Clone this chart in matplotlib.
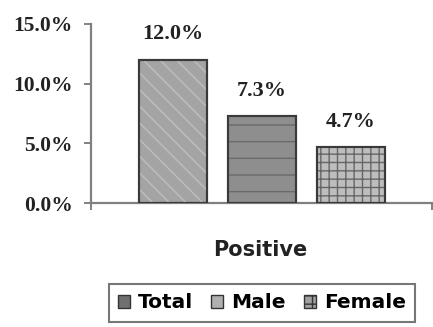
import matplotlib
matplotlib.use('Agg')
import matplotlib.pyplot as plt
from matplotlib.patches import Patch

# percentage testing positive, by group
groups = ['Total', 'Male', 'Female']
values = [12.0, 7.3, 4.7]
value_labels = ['12.0%', '7.3%', '4.7%']
y_ticks = [0, 5, 10, 15]
y_tick_labels = ['0.0%', '5.0%', '10.0%', '15.0%']

# fill colour, hatch, hatch colour per bar
faces = ['#a4a4a4', '#8e8e8e', '#bdbdbd']
hatches = ['\\\\', '-', '++']
hatch_colors = ['#bebebe', '#6a6a6a', '#666666']

fig = plt.figure(figsize=(4.33, 3.27), dpi=100)
ax = fig.add_axes([0.210, 0.379, 0.788, 0.548])

x = list(range(len(groups)))
width = 0.77
ax.bar(x, values, width=width, color=faces, edgecolor='#3a3a3a',
       linewidth=1.5, zorder=2)
# draw hatches on top so they get their own colour
for xi, v, h, hc in zip(x, values, hatches, hatch_colors):
    ax.bar(xi, v, width=width, fill=False, hatch=h, edgecolor=hc,
           linewidth=0, zorder=3)
ax.bar(x, values, width=width, fill=False, edgecolor='#3a3a3a',
       linewidth=1.5, zorder=4)

for xi, v, lab in zip(x, values, value_labels):
    ax.annotate(lab, (xi, v), xytext=(0, 11), textcoords='offset points',
                ha='center', va='bottom', fontsize=16, fontweight='bold',
                family='Liberation Serif', color='#222222')

ax.set_ylim(0, 15)
ax.set_xlim(-0.92, 2.91)
ax.set_yticks(y_ticks)
ax.set_yticklabels(y_tick_labels, fontsize=15.5, fontweight='bold',
                   family='Liberation Serif', color='#222222')
ax.set_xticks([-0.92, 2.91])
ax.set_xticklabels(['', ''])
ax.tick_params(axis='both', direction='out', length=5, width=1.3,
               color='#777777')
ax.tick_params(axis='y', pad=8)

for s in ['top', 'right']:
    ax.spines[s].set_visible(False)
for s in ['left', 'bottom']:
    ax.spines[s].set_color('#808080')
    ax.spines[s].set_linewidth(1.6)

fig.text(260 / 433, 1 - 250 / 327, 'Positive', ha='center', va='center',
         fontsize=15, fontweight='bold', family='DejaVu Sans',
         color='#222222')

handles = [Patch(facecolor=f, edgecolor='#333333', hatch=h, linewidth=1)
           for f, h in zip(['#707070', '#b0b0b0', '#a0a0a0'], ['', '', '++'])]
leg = fig.legend(handles, groups, loc='center',
                 bbox_to_anchor=(262 / 433, 1 - 303 / 327), ncol=3,
                 prop={'family': 'DejaVu Sans', 'weight': 'bold',
                       'size': 14.5},
                 handlelength=0.6, handleheight=0.6, handletextpad=0.4,
                 columnspacing=0.9, borderpad=0.45, borderaxespad=0,
                 frameon=True, fancybox=False)
leg.get_frame().set_edgecolor('#555555')
leg.get_frame().set_linewidth(1.5)

fig.savefig('out.png', dpi=100)
